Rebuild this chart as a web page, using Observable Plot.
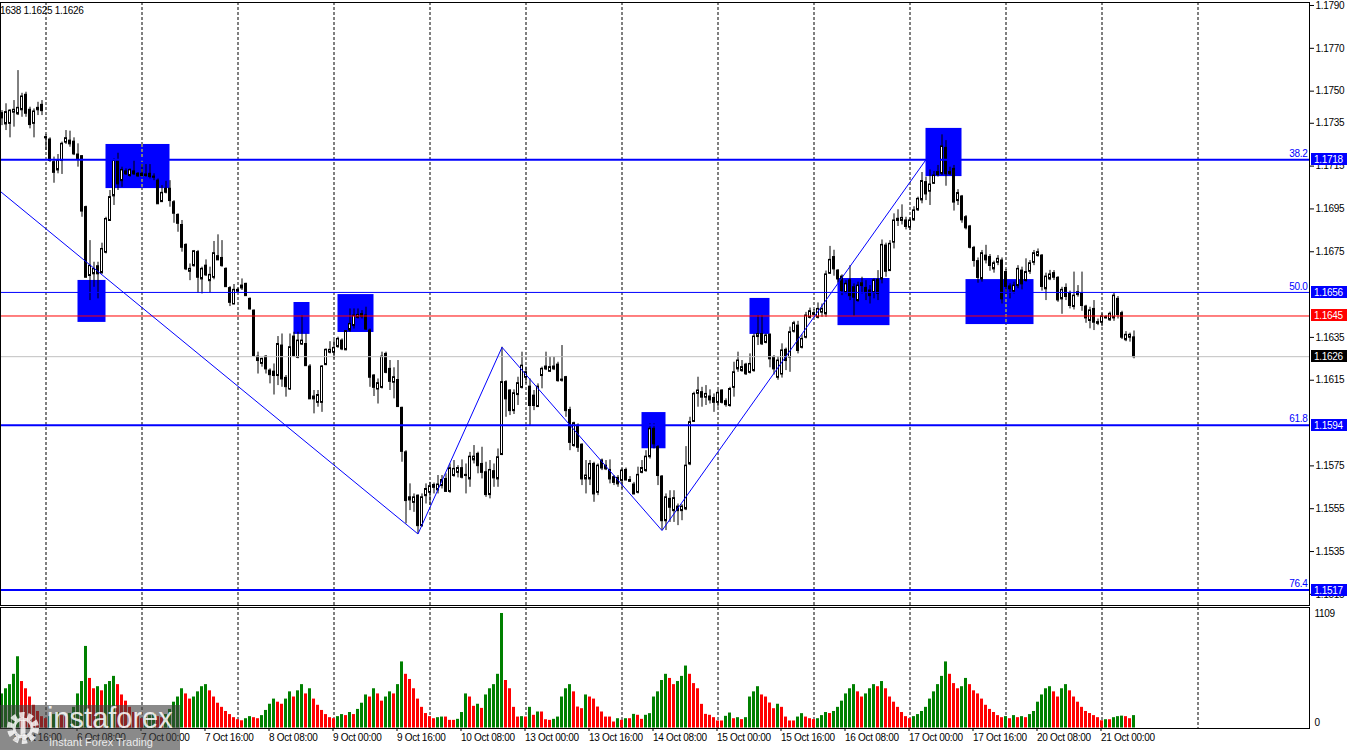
<!DOCTYPE html>
<html>
<head>
<meta charset="utf-8">
<script src="https://cdn.jsdelivr.net/npm/d3@7"></script>
<script src="https://cdn.jsdelivr.net/npm/@observablehq/plot@0.6"></script>
<style>
  html, body { margin: 0; padding: 0; background: #fff; overflow: hidden; }
  #wrap { position: relative; width: 1350px; height: 750px; font-family: "Liberation Sans", Arial, sans-serif; }
  #price, #vol { position: absolute; left: 0; }
  #price { top: 0; }
  #vol { top: 606px; }
  #price svg text, #vol svg text { letter-spacing: -0.3px; }
  #hdr { position: absolute; left: 0; top: 4px; font-size: 10px; line-height: 13px; color: #000; white-space: nowrap; letter-spacing: -0.3px; }
  #wm { position: absolute; left: 0; top: 705px; width: 180px; height: 45px; background: rgba(60,60,60,0.6); overflow: hidden; }
  #wm .brand { position: absolute; left: 47px; top: -3px; font-size: 29px; color: rgba(255,255,255,0.85); }
  #wm .tag { position: absolute; left: 49px; top: 31px; font-size: 11px; color: rgba(255,255,255,0.85); }
  #wm svg { position: absolute; left: 3px; top: 3px; }
</style>
</head>
<body>
<div id="wrap">
  <div id="price"></div>
  <div id="vol"></div>
  <div id="hdr">1638 1.1625 1.1626</div>
  <div id="wm">
    <svg width="42" height="40" viewBox="0 0 42 40">
      <circle cx="20" cy="20" r="13" fill="none" stroke="rgba(255,255,255,0.8)" stroke-width="6" stroke-dasharray="5,3.2"></circle>
      <circle cx="20" cy="20" r="9" fill="none" stroke="rgba(255,255,255,0.8)" stroke-width="3"></circle>
      <rect x="17.5" y="12" width="5" height="16" fill="rgba(255,255,255,0.8)"></rect>
    </svg>
    <div class="brand">instaforex</div>
    <div class="tag">Instant Forex Trading</div>
  </div>
</div>
<script>
// ---------------- DATA (EURUSD H1, bar 0 = 3 Oct 13:00) ----------------
const opens = [
1.17397,1.17347,1.17350,1.17402,1.17394,1.17413,1.17483,1.17413,1.17350,1.17413,1.17436,
1.17285,1.17274,1.17168,1.17132,1.17176,1.17262,1.17269,1.17264,1.17204,1.17196,1.16958,1.16639,1.16647,1.16682,1.16651,1.16748,1.16896,1.17011,1.17176,1.17082,1.17125,1.17106,1.17125,1.17104,
1.17114,1.17106,1.17114,1.17101,1.17082,1.16984,1.17044,1.17044,1.16981,1.16922,1.16875,1.16782,1.16659,1.16685,1.16748,1.16623,1.16685,1.16615,1.16631,1.16729,1.16721,1.16670,1.16580,1.16506,
1.16566,1.16581,1.16600,1.16530,1.16475,1.16260,1.16229,1.16260,1.16195,1.16190,1.16172,1.16312,1.16161,1.16109,1.16354,1.16257,1.16319,1.16319,1.16214,1.16074,1.16047,1.16047,1.16223,1.16281,
1.16281,1.16307,1.16335,1.16292,1.16385,1.16405,1.16444,1.16447,1.16452,1.16382,1.16172,1.16109,1.16117,1.16273,1.16203,1.16141,1.16151,1.16021,1.15813,1.15603,1.15580,1.15611,1.15471,1.15611,
1.15627,1.15661,1.15638,1.15658,1.15689,1.15631,1.15705,1.15720,1.15739,1.15708,1.15689,1.15778,1.15806,1.15759,1.15720,1.15616,1.15725,1.15689,1.15803,1.16141,1.16102,1.16008,1.16083,1.16117,
1.16164,1.16120,1.16078,1.16027,1.16172,1.16203,1.16192,1.16203,1.16223,1.16153,1.16164,1.16011,1.15845,1.15938,1.15849,1.15689,1.15689,1.15759,1.15627,1.15775,1.15751,1.15731,1.15697,1.15694,
1.15681,1.15731,1.15684,1.15663,1.15627,1.15720,1.15728,1.15793,1.15923,1.15837,1.15700,1.15494,1.15596,1.15541,1.15560,1.15541,1.15549,1.15759,1.15958,1.16089,1.16094,1.16071,1.16074,1.16067,
1.16047,1.16102,1.16052,1.16032,1.16117,1.16203,1.16195,1.16223,1.16187,1.16195,1.16354,1.16366,1.16327,1.16362,1.16258,1.16164,1.16179,1.16292,1.16258,1.16379,1.16405,1.16304,1.16351,1.16444,
1.16463,1.16444,1.16468,1.16460,1.16650,1.16725,1.16662,1.16634,1.16561,1.16616,1.16584,1.16522,1.16592,1.16581,1.16569,1.16561,1.16619,1.16623,1.16779,1.16662,1.16795,1.16896,1.16896,1.16896,
1.16865,1.16899,1.16946,1.16992,1.17075,1.17033,1.17070,1.17111,1.17117,1.17235,1.17114,1.17137,1.16989,1.17008,1.16911,1.16868,1.16768,1.16706,1.16623,1.16732,1.16725,1.16670,1.16701,1.16709,
1.16655,1.16588,1.16566,1.16592,1.16662,1.16616,1.16659,1.16701,1.16732,1.16732,1.16577,1.16623,1.16650,1.16628,1.16530,1.16581,1.16556,1.16494,1.16550,1.16556,1.16494,1.16429,1.16483,1.16421,
1.16421,1.16444,1.16432,1.16441,1.16530,1.16463,1.16339,1.16351,1.16350
];
const highs = [
1.17409,1.17441,1.17413,1.17456,1.17596,1.17490,1.17495,1.17425,1.17417,1.17448,1.17456,
1.17297,1.17282,1.17192,1.17204,1.17262,1.17316,1.17313,1.17282,1.17254,1.17199,1.16963,1.16802,1.16701,1.16701,1.16790,1.16911,1.17036,1.17184,1.17210,1.17145,1.17137,1.17137,1.17176,1.17120,
1.17157,1.17157,1.17157,1.17114,1.17090,1.17059,1.17079,1.17082,1.16989,1.16927,1.16896,1.16787,1.16693,1.16756,1.16756,1.16678,1.16712,1.16678,1.16798,1.16829,1.16802,1.16675,1.16587,1.16597,
1.16580,1.16623,1.16603,1.16534,1.16478,1.16281,1.16253,1.16265,1.16203,1.16226,1.16354,1.16366,1.16172,1.16366,1.16374,1.16374,1.16452,1.16366,1.16223,1.16102,1.16102,1.16218,1.16296,1.16330,
1.16335,1.16351,1.16343,1.16382,1.16483,1.16483,1.16483,1.16475,1.16491,1.16389,1.16176,1.16156,1.16281,1.16281,1.16242,1.16208,1.16242,1.16024,1.15821,1.15666,1.15619,1.15614,1.15619,1.15666,
1.15673,1.15670,1.15705,1.15705,1.15713,1.15759,1.15775,1.15751,1.15778,1.15759,1.15813,1.15845,1.15814,1.15837,1.15767,1.15775,1.15759,1.15829,1.16304,1.16148,1.16105,1.16105,1.16164,1.16281,
1.16211,1.16156,1.16102,1.16133,1.16211,1.16281,1.16257,1.16257,1.16234,1.16312,1.16168,1.16024,1.15954,1.15946,1.15853,1.15775,1.15775,1.15767,1.15759,1.15782,1.15775,1.15778,1.15705,1.15705,
1.15736,1.15740,1.15700,1.15673,1.15744,1.15775,1.15821,1.15946,1.15946,1.15845,1.15705,1.15619,1.15634,1.15634,1.15572,1.15569,1.15840,1.15977,1.16094,1.16164,1.16117,1.16125,1.16105,1.16086,
1.16102,1.16105,1.16063,1.16117,1.16234,1.16281,1.16242,1.16229,1.16273,1.16366,1.16452,1.16452,1.16366,1.16367,1.16265,1.16260,1.16320,1.16300,1.16398,1.16425,1.16425,1.16362,1.16467,1.16487,
1.16480,1.16511,1.16506,1.16660,1.16775,1.16757,1.16667,1.16642,1.16615,1.16685,1.16600,1.16608,1.16631,1.16615,1.16592,1.16623,1.16662,1.16805,1.16790,1.16802,1.16927,1.16946,1.16969,1.16911,
1.16908,1.16960,1.17005,1.17120,1.17099,1.17132,1.17125,1.17153,1.17296,1.17269,1.17145,1.17153,1.17040,1.17013,1.16919,1.16873,1.16775,1.16721,1.16756,1.16780,1.16737,1.16706,1.16732,1.16721,
1.16667,1.16600,1.16608,1.16685,1.16678,1.16717,1.16709,1.16756,1.16763,1.16737,1.16650,1.16663,1.16662,1.16634,1.16584,1.16600,1.16566,1.16655,1.16592,1.16655,1.16500,1.16491,1.16522,1.16436,
1.16460,1.16452,1.16468,1.16556,1.16541,1.16472,1.16377,1.16370,1.16380
];
const lows = [
1.17339,1.17316,1.17282,1.17332,1.17386,1.17378,1.17378,1.17324,1.17282,1.17386,1.17386,
1.17223,1.17168,1.17070,1.17114,1.17111,1.17251,1.17238,1.17199,1.17145,1.16911,1.16628,1.16522,1.16584,1.16530,1.16647,1.16740,1.16893,1.16966,1.17036,1.17051,1.17106,1.17098,1.17106,1.17098,
1.17098,1.17098,1.17090,1.17082,1.16971,1.16981,1.17020,1.16958,1.16883,1.16841,1.16748,1.16662,1.16615,1.16678,1.16556,1.16553,1.16634,1.16558,1.16619,1.16709,1.16678,1.16584,1.16494,1.16503,
1.16559,1.16569,1.16541,1.16478,1.16257,1.16179,1.16211,1.16179,1.16133,1.16081,1.16125,1.16117,1.16071,1.16102,1.16257,1.16250,1.16312,1.16214,1.16060,1.15993,1.16024,1.16000,1.16218,1.16273,
1.16250,1.16299,1.16288,1.16288,1.16374,1.16389,1.16436,1.16436,1.16382,1.16117,1.16074,1.16039,1.16109,1.16180,1.16102,1.16063,1.16024,1.15767,1.15479,1.15541,1.15533,1.15432,1.15463,1.15572,
1.15565,1.15619,1.15619,1.15642,1.15627,1.15622,1.15697,1.15694,1.15689,1.15619,1.15650,1.15759,1.15713,1.15689,1.15603,1.15596,1.15650,1.15650,1.15798,1.15977,1.15985,1.15990,1.16032,1.16109,
1.16133,1.15938,1.16008,1.16024,1.16110,1.16195,1.16187,1.16195,1.16141,1.16141,1.15977,1.15821,1.15837,1.15813,1.15658,1.15619,1.15658,1.15580,1.15611,1.15728,1.15728,1.15666,1.15658,1.15650,
1.15642,1.15681,1.15673,1.15615,1.15619,1.15713,1.15720,1.15782,1.15829,1.15658,1.15448,1.15448,1.15486,1.15486,1.15471,1.15494,1.15541,1.15751,1.15954,1.16024,1.16024,1.16032,1.16039,1.16000,
1.16024,1.16039,1.16024,1.16024,1.16071,1.16187,1.16187,1.16172,1.16179,1.16187,1.16312,1.16312,1.16320,1.16208,1.16174,1.16150,1.16160,1.16195,1.16187,1.16370,1.16273,1.16296,1.16343,1.16436,
1.16450,1.16436,1.16444,1.16444,1.16644,1.16636,1.16603,1.16545,1.16553,1.16522,1.16448,1.16514,1.16553,1.16522,1.16506,1.16530,1.16522,1.16600,1.16631,1.16659,1.16763,1.16868,1.16875,1.16852,
1.16849,1.16892,1.16938,1.16974,1.16989,1.16966,1.17064,1.17099,1.17106,1.17056,1.17106,1.16940,1.16966,1.16883,1.16852,1.16763,1.16678,1.16603,1.16608,1.16693,1.16659,1.16650,1.16685,1.16506,
1.16550,1.16530,1.16553,1.16577,1.16572,1.16608,1.16644,1.16685,1.16725,1.16566,1.16522,1.16615,1.16616,1.16514,1.16458,1.16522,1.16483,1.16478,1.16538,1.16472,1.16416,1.16390,1.16382,1.16405,
1.16400,1.16436,1.16425,1.16425,1.16436,1.16340,1.16330,1.16328,1.16250
];
const closes = [
1.17375,1.17402,1.17409,1.17413,1.17422,1.17475,1.17397,1.17344,1.17405,1.17422,1.17409,
1.17282,1.17176,1.17121,1.17176,1.17254,1.17280,1.17254,1.17207,1.17184,1.16940,1.16631,1.16685,1.16670,1.16647,1.16763,1.16903,1.17005,1.17176,1.17067,1.17132,1.17114,1.17132,1.17114,1.17114,
1.17106,1.17111,1.17101,1.17098,1.16974,1.17025,1.17028,1.16989,1.16930,1.16883,1.16771,1.16670,1.16670,1.16752,1.16631,1.16670,1.16642,1.16642,1.16743,1.16712,1.16685,1.16587,1.16514,1.16572,
1.16572,1.16592,1.16545,1.16483,1.16265,1.16242,1.16250,1.16203,1.16176,1.16172,1.16319,1.16156,1.16120,1.16304,1.16265,1.16335,1.16335,1.16218,1.16063,1.16063,1.16081,1.16214,1.16292,1.16292,
1.16301,1.16343,1.16296,1.16379,1.16413,1.16452,1.16455,1.16459,1.16389,1.16164,1.16117,1.16136,1.16260,1.16187,1.16145,1.16164,1.16027,1.15818,1.15588,1.15591,1.15603,1.15471,1.15603,1.15642,
1.15655,1.15650,1.15663,1.15684,1.15631,1.15739,1.15736,1.15740,1.15697,1.15705,1.15793,1.15793,1.15751,1.15720,1.15616,1.15731,1.15694,1.15790,1.16141,1.16063,1.16008,1.16089,1.16136,1.16218,
1.16187,1.16032,1.16032,1.16120,1.16203,1.16214,1.16211,1.16214,1.16148,1.16150,1.16008,1.15860,1.15949,1.15837,1.15689,1.15705,1.15759,1.15619,1.15751,1.15740,1.15736,1.15689,1.15673,1.15666,
1.15728,1.15684,1.15678,1.15619,1.15708,1.15740,1.15793,1.15923,1.15853,1.15705,1.15494,1.15603,1.15557,1.15599,1.15541,1.15560,1.15751,1.15954,1.16086,1.16102,1.16071,1.16086,1.16058,1.16047,
1.16091,1.16047,1.16036,1.16109,1.16187,1.16242,1.16211,1.16180,1.16226,1.16354,1.16366,1.16320,1.16359,1.16250,1.16203,1.16242,1.16289,1.16242,1.16374,1.16416,1.16289,1.16343,1.16452,1.16472,
1.16458,1.16483,1.16483,1.16644,1.16712,1.16670,1.16623,1.16569,1.16600,1.16545,1.16538,1.16592,1.16603,1.16561,1.16545,1.16616,1.16556,1.16782,1.16659,1.16787,1.16896,1.16904,1.16908,1.16868,
1.16896,1.16943,1.16997,1.17080,1.17020,1.17064,1.17106,1.17122,1.17242,1.17114,1.17122,1.16982,1.17024,1.16899,1.16862,1.16771,1.16709,1.16630,1.16743,1.16712,1.16686,1.16696,1.16717,1.16530,
1.16588,1.16577,1.16592,1.16670,1.16600,1.16655,1.16696,1.16743,1.16748,1.16588,1.16634,1.16644,1.16631,1.16525,1.16572,1.16541,1.16499,1.16545,1.16561,1.16499,1.16441,1.16476,1.16421,1.16416,
1.16448,1.16441,1.16460,1.16545,1.16457,1.16351,1.16362,1.16362,1.16260
];
const volumes = [
// 3 Oct 13:00-23:00
330,380,420,520,690,450,380,300,220,160,110,
// 6 Oct
90,110,130,150,120,110,140,200,330,450,790,480,380,400,360,420,450,500,420,320,260,200,150,110,
// 7 Oct
90,100,120,140,110,100,130,180,250,300,380,330,280,300,350,400,420,360,300,240,200,160,130,100,
// 8 Oct
80,70,90,110,100,90,120,170,230,280,250,230,280,350,300,360,420,330,380,280,220,170,130,100,
// 9 Oct
90,110,130,120,150,130,180,240,320,300,380,330,260,300,350,330,420,640,520,470,380,280,200,140,
// 10 Oct
110,90,100,106,106,74,74,84,150,330,300,210,230,190,320,380,420,520,1109,460,380,200,106,110,
// 13 Oct
106,200,123,155,155,80,74,84,106,300,380,420,350,203,187,320,300,280,203,155,106,106,58,90,
// 14 Oct
74,90,90,132,123,84,123,139,300,350,460,520,480,420,450,500,600,520,430,380,229,132,123,100,
// 15 Oct
68,68,113,145,90,100,81,100,300,350,400,320,300,242,187,230,200,106,68,68,106,139,106,90,
// 16 Oct
81,90,120,150,140,160,200,260,330,380,420,350,300,330,380,420,400,450,380,300,250,200,150,110,
// 17 Oct
90,110,130,160,200,280,350,420,500,640,520,430,380,400,480,420,360,330,280,220,180,150,120,100,
// 20 Oct
110,90,120,100,110,100,130,160,250,320,380,400,350,300,380,420,360,300,250,200,160,140,120,100,
// 21 Oct 00:00-08:00
70,80,80,100,110,115,110,90,120
];

// daily 00:00 separators (bar indexes), incl. 22 Oct 00:00 (future)
const dayStarts = [11,35,59,83,107,131,155,179,203,227,251,275,299];
// time-axis ticks (bar index) and labels
const xTickIdx = [3,19,35,51,67,83,99,115,131,147,163,179,195,211,227,243,259,275];
const xTickLabels = ["3 Oct 16:00","6 Oct 08:00","7 Oct 00:00","7 Oct 16:00","8 Oct 08:00","9 Oct 00:00","9 Oct 16:00","10 Oct 08:00","13 Oct 00:00","13 Oct 16:00","14 Oct 08:00","15 Oct 00:00","15 Oct 16:00","16 Oct 08:00","17 Oct 00:00","17 Oct 16:00","20 Oct 08:00","21 Oct 00:00"];
// price axis ticks (1.1655 and 1.1595 sit fully under the level markers)
const yTicks = [1.1790,1.1770,1.1750,1.1735,1.1715,1.1695,1.1675,1.1635,1.1615,1.1575,1.1555,1.1535,1.1515];
// volume axis ticks
const volTicks = [1109];

// Fibonacci levels
const fibLevels = [1.1718, 1.1656, 1.1594, 1.1517];
const fibNames  = ["38.2", "50.0", "61.8", "76.4"];
const fibWidths = [2, 1, 2, 2];
// other horizontal lines
const redLevel = 1.1645;
const bidLevel = 1.1626;

// blue zones: [from bar, to bar, top price, bottom price]
const boxFrom   = [19, 26, 73, 84, 160, 187, 209, 231, 241];
const boxTo     = [26, 42, 77, 93, 166, 192, 222, 240, 258];
const boxTop    = [1.16616, 1.17251, 1.16513, 1.16550, 1.15999, 1.16532, 1.16625, 1.17326, 1.16620];
const boxBottom = [1.16420, 1.17045, 1.16364, 1.16373, 1.15830, 1.16364, 1.16405, 1.17101, 1.16410];

// zigzag / trend line pivots
const zigIdx   = [-0.3, 104, 125, 165, 231];
const zigPrice = [1.1703, 1.15432, 1.16304, 1.15448, 1.1718];

// right-edge price markers
const markValues = [1.1718, 1.1656, 1.1645, 1.1626, 1.1594, 1.1517];
const markColors = ["#0000ff", "#0000ff", "#ff0000", "#000000", "#0000ff", "#0000ff"];

// ---------------- BUILD ----------------
const candles = opens.map((o, k) => ({i: k, open: o, high: highs[k], low: lows[k], close: closes[k], up: closes[k] >= o}));
const vols = volumes.map((v, k) => ({i: k, v, color: (k === 0 || v > volumes[k - 1]) ? "#008000" : "#ff0000"}));
const boxes = boxFrom.map((f, k) => ({from: f, to: boxTo[k], top: boxTop[k], bottom: boxBottom[k]}));
const boxGrid = [];
boxes.forEach(b => dayStarts.forEach(g => { if (g > b.from && g < b.to) boxGrid.push({g, top: b.top, bottom: b.bottom}); }));
const zig = zigIdx.map((x, k) => ({i: x, p: zigPrice[k]}));
const fibs = fibLevels.map((p, k) => ({p, name: fibNames[k], w: fibWidths[k]}));
const labelMap = new Map(xTickIdx.map((d, k) => [d, xTickLabels[k]]));

const X_DOMAIN = [-0.375, 326.875];
const X_RANGE = [0, 1309];
const FONT = "'Liberation Sans', Arial, sans-serif";

const priceChart = Plot.plot({
  width: 1350, height: 607,
  marginLeft: 0, marginRight: 41, marginTop: 2, marginBottom: 2,
  x: {domain: X_DOMAIN, range: X_RANGE, axis: null},
  y: {domain: [1.15098, 1.17914], range: [605, 2], axis: null},
  style: {fontFamily: FONT, fontSize: "10px", background: "transparent", overflow: "visible"},
  marks: [
    Plot.ruleX(dayStarts, {stroke: "#000", strokeWidth: 1, strokeDasharray: "3,2"}),
    Plot.rect(boxes, {x1: "from", x2: "to", y1: "top", y2: "bottom", fill: "#0000ff"}),
    Plot.ruleX(boxGrid, {x: "g", y1: "top", y2: "bottom", stroke: "#ffff00", strokeDasharray: "3,2"}),
    Plot.ruleX(candles, {x: "i", y1: "low", y2: "high", stroke: "#000", strokeWidth: 1}),
    Plot.rect(candles, {x1: d => d.i - 0.25, x2: d => d.i + 0.25, y1: "open", y2: "close",
      fill: d => d.up ? "#fff" : "#000", stroke: "#000", strokeWidth: 1}),
    Plot.ruleY(candles, {x1: d => d.i - 0.375, x2: d => d.i + 0.375, y: "open", stroke: "#000", strokeWidth: 1}),
    Plot.ruleY(candles, {x1: d => d.i - 0.375, x2: d => d.i + 0.375, y: "close", stroke: "#000", strokeWidth: 1}),
    Plot.ruleY([bidLevel], {stroke: "#c0c0c0", strokeWidth: 1}),
    Plot.ruleY([redLevel], {stroke: "#ff0000", strokeWidth: 1}),
    Plot.ruleY(fibs, {y: "p", stroke: "#0000ff", strokeWidth: "w"}),
    Plot.line(zig, {x: "i", y: "p", stroke: "#0000ff", strokeWidth: 1}),
    Plot.text(fibs, {x: X_DOMAIN[1], y: "p", text: "name", textAnchor: "end", dx: -2, dy: -6, fill: "#0000ff", fontSize: 10}),
    Plot.axisY(yTicks, {anchor: "right", label: null, tickSize: 4, tickPadding: 2, tickFormat: d => d.toFixed(4), fontSize: 10}),
    Plot.frame({stroke: "#000"})
  ]
});
document.getElementById("price").appendChild(priceChart);

// right-edge highlighted price boxes (positioned with the chart's own scales)
(function () {
  const ys = priceChart.scale("y"), xs = priceChart.scale("x");
  const x0 = xs.apply(X_DOMAIN[1]) + 2;
  const g = d3.select(priceChart).append("g").attr("text-anchor", "start");
  markValues.forEach((v, k) => {
    const y = Math.round(ys.apply(v));
    g.append("rect").attr("x", x0).attr("y", y - 6).attr("width", 36).attr("height", 12).attr("fill", markColors[k]);
    g.append("text").attr("x", x0 + 3).attr("y", y).attr("dy", "0.36em").attr("text-anchor", "start")
      .attr("fill", "#fff").attr("font-size", 10).attr("font-family", "Liberation Sans, Arial, sans-serif").text(v.toFixed(4));
  });
})();

const volChart = Plot.plot({
  width: 1350, height: 144,
  marginLeft: 0, marginRight: 41, marginTop: 1, marginBottom: 22,
  x: {domain: X_DOMAIN, range: X_RANGE, axis: null},
  y: {domain: [0, 1167], range: [121.5, 1], axis: null},
  style: {fontFamily: FONT, fontSize: "10px", background: "transparent", overflow: "visible"},
  marks: [
    Plot.ruleX(dayStarts, {stroke: "#000", strokeWidth: 1, strokeDasharray: "3,2"}),
    Plot.rect(vols, {x1: d => d.i - 0.375, x2: d => d.i + 0.375, y1: 0, y2: "v", fill: "color"}),
    Plot.axisY(volTicks, {anchor: "right", label: null, tickSize: 0, tickPadding: 5, tickFormat: d => String(d), fontSize: 10}),
    Plot.axisY([0], {anchor: "right", label: null, tickSize: 0, tickPadding: 5, tickFormat: d => String(d), dy: -5, fontSize: 10}),
    Plot.axisX(xTickIdx, {anchor: "bottom", label: null, tickSize: 3, tickPadding: 2, textAnchor: "start", dx: -1,
      tickFormat: d => labelMap.get(d), fontSize: 10}),
    Plot.frame({stroke: "#000"})
  ]
});
document.getElementById("vol").appendChild(volChart);
</script>
</body>
</html>
